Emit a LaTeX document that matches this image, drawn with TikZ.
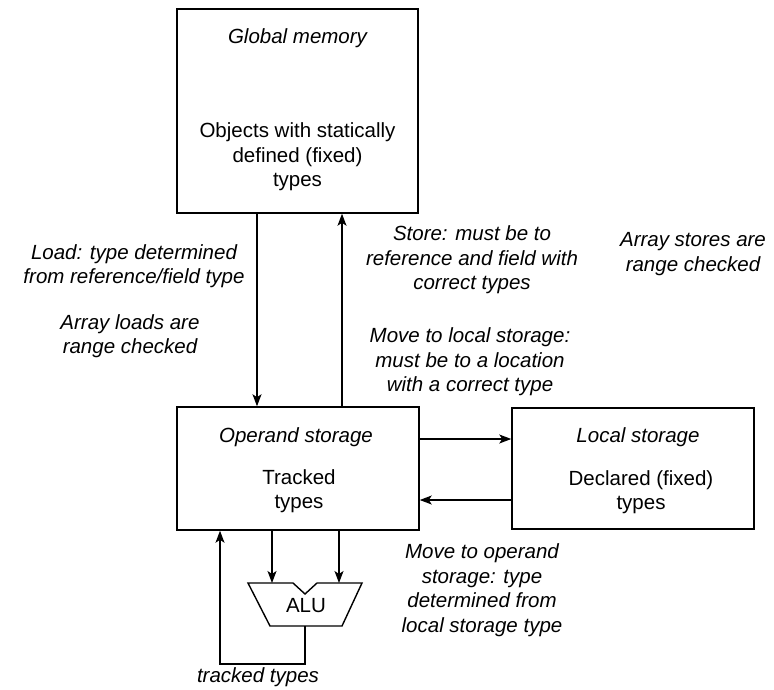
\documentclass[tikz,border=0pt]{standalone}
\usepackage{fontspec}
\setmainfont{Liberation Sans}
\usetikzlibrary{arrows.meta}
\begin{document}
\begin{tikzpicture}[x=1pt,y=-1pt,
  box/.style={draw,line width=1.5pt,minimum width=242pt,inner sep=0pt},
  lbl/.style={font=\fontsize{20.5}{24.5}\selectfont\itshape,align=center,inner sep=0pt},
  txt/.style={font=\fontsize{20.5}{24.5}\selectfont,align=center,inner sep=0pt},
  arr/.style={line width=1.2pt,-{Stealth[length=12pt,width=9pt,inset=3pt]}},
  ln/.style={line width=1.2pt}]
\useasboundingbox (0,0) rectangle (774,689);
% boxes
\node[box,minimum width=241pt,minimum height=204pt] (gm) at (297.5,111) {};
\node[box,minimum height=123pt] (op) at (298,468.5) {};
\node[box,minimum height=121pt] (ls) at (633,468.5) {};
% box texts
\node[lbl] (gmt) at (297.5,38) {Global memory};
\node[txt] (gmb) at (297.5,157) {Objects with statically\\defined (fixed)\\types};
\node[lbl] (opt) at (296,437) {Operand storage};
\node[txt] (opb) at (299,491) {Tracked\\types};
\node[lbl] (lst) at (638,437) {Local storage};
\node[txt] (lsb) at (641,492) {Declared (fixed)\\types};
% labels
\node[lbl] (load) at (134,266) {Load: type determined\\from reference/field type};
\node[lbl] (aload) at (130,336) {Array loads are\\range checked};
\node[lbl] (store) at (472,260) {Store: must be to\\reference and field with\\correct types};
\node[lbl] (astore) at (693,254) {Array stores are\\range checked};
\node[lbl] (mvl) at (470,362) {Move to local storage:\\must be to a location\\with a correct type};
\node[lbl] (mvo) at (482,590) {Move to operand\\storage: type\\determined from\\local storage type};
\node[lbl] (tt) at (258,677.5) {tracked types};
% ALU
\coordinate (in1) at (272,583);
\coordinate (in2) at (339,583);
\coordinate (out) at (305,626);
\coordinate (c1) at (305,664);
\coordinate (c2) at (220,664);
\draw[line width=1.4pt,line join=miter] (248,583) -- (293,583) -- (305,594) -- (317,583) -- (362,583) -- (342,626) -- (270,626) -- cycle;
\node[txt] (alu) at (306,606) {ALU};
% connectors
\coordinate (dx) at (257,0);
\coordinate (ux) at (342,0);
\coordinate (a1) at (0,439);
\coordinate (a2) at (0,500);
\draw[arr] (gm.south -| dx) -- (op.north -| dx);
\draw[arr] (op.north -| ux) -- (gm.south -| ux);
\draw[arr] (op.east |- a1) -- (ls.west |- a1);
\draw[arr] (ls.west |- a2) -- (op.east |- a2);
\draw[arr] (op.south -| in1) -- (in1);
\draw[arr] (op.south -| in2) -- (in2);
\draw[arr,line join=miter] (out) -- (c1) -- (c2) -- (c2 |- op.south);
\end{tikzpicture}
\end{document}
